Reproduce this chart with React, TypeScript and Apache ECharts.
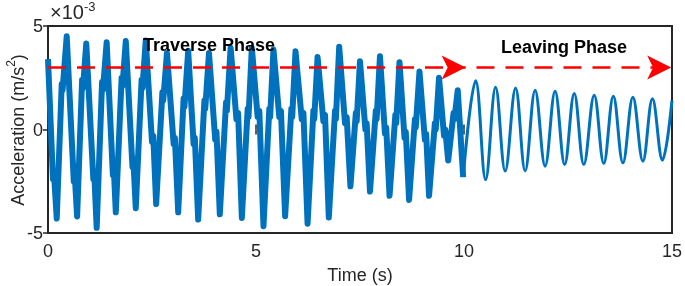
import React, { useEffect, useRef } from "react";
import * as echarts from "echarts";

// Traverse phase (0–10 s): times (s) and acceleration (×1e-3 m/s²), read at extrema and slope notches
const TRAVERSE_T = [
  0.0, 0.05, 0.12, 0.14, 0.21, 0.33, 0.35, 0.45, 0.62, 0.64, 0.7, 0.82, 0.84, 0.92,
  1.09, 1.11, 1.17, 1.3, 1.32, 1.41, 1.56, 1.58, 1.63, 1.77, 1.79, 1.87,
  2.03, 2.05, 2.11, 2.25, 2.27, 2.35, 2.5, 2.53, 2.6, 2.75, 2.77, 2.86,
  3.02, 3.05, 3.13, 3.26, 3.28, 3.37, 3.5, 3.53, 3.61, 3.76, 3.78, 3.87,
  4.02, 4.05, 4.13, 4.28, 4.3, 4.39, 4.53, 4.57, 4.66, 4.8, 4.82, 4.9,
  5.04, 5.08, 5.18, 5.32, 5.34, 5.42, 5.56, 5.6, 5.7, 5.85, 5.87, 5.95,
  6.1, 6.14, 6.24, 6.38, 6.4, 6.48, 6.62, 6.66, 6.75, 6.9, 6.92, 7.0,
  7.14, 7.18, 7.27, 7.4, 7.42, 7.5, 7.63, 7.66, 7.74, 7.88, 7.9, 7.98,
  8.1, 8.13, 8.21, 8.35, 8.37, 8.45, 8.57, 8.6, 8.68, 8.82, 8.84, 8.93,
  9.06, 9.09, 9.16, 9.3, 9.32, 9.4, 9.52, 9.55, 9.62, 9.75, 9.77, 9.85, 9.98,
];
const TRAVERSE_V = [
  3.4, 1.0, -2.4, -2.0, -4.3, 2.2, 1.9, 4.5, -2.5, -2.1, -4.2, 2.4, 2.0, 4.15,
  -2.4, -2.0, -4.75, 2.3, 1.9, 4.22, -2.2, -1.8, -4.0, 2.5, 2.1, 4.27,
  -1.8, -1.4, -3.8, 2.4, 2.0, 4.3, -0.6, -0.3, -3.6, 1.8, 1.4, 3.7,
  -0.7, -0.4, -4.0, 1.5, 1.1, 3.8, -0.7, -0.4, -4.35, 1.4, 1.0, 3.7,
  -0.5, -0.1, -4.1, 1.3, 0.9, 3.95, 0.5, 0.8, -4.27, 1.0, 0.6, 3.95,
  0.6, 0.9, -4.67, 1.0, 0.6, 3.86, 0.6, 0.9, -4.19, 1.0, 0.6, 3.78,
  0.5, 0.8, -4.55, 0.9, 0.5, 3.5, 0.4, 0.7, -4.25, 0.9, 0.5, 4.0,
  0.3, 0.6, -2.74, 0.8, 0.4, 3.3, 0.0, 0.3, -3.0, 0.9, 0.5, 3.54,
  -0.2, 0.1, -3.2, 0.7, 0.3, 3.25, -0.4, -0.1, -3.4, 0.5, 0.1, 2.8,
  -0.5, -0.2, -3.2, 0.3, 0.0, 2.5, -0.3, 0.0, -1.5, 0.8, 0.5, 1.9, -2.3,
];
// Leaving phase (10–15 s)
const LEAVING_T = [
  9.98, 10.28, 10.52, 10.76, 10.99, 11.24, 11.47, 11.71, 11.95, 12.19, 12.42, 12.65, 12.88,
  13.13, 13.36, 13.59, 13.82, 14.06, 14.3, 14.53, 14.77, 15.0,
];
const LEAVING_V = [
  -2.3, 2.35, -2.42, 2.04, -2.01, 2.01, -2.0, 1.9, -1.77, 1.85, -1.69, 1.74, -1.69,
  1.66, -1.64, 1.61, -1.61, 1.56, -1.53, 1.48, -1.48, 1.4,
];

const X_TICKS = [0, 5, 10, 15];
const Y_TICKS = [-5, 0, 5];
const ARROW_LEVEL = 3;
const ARROW_1 = [0, 10.04];
const ARROW_2 = [10.3, 14.98];

const BLUE = "#0072BD";
const RED = "#FF0000";
const DARK = "#262626";
const FONT = "Liberation Sans, Arial, Helvetica, sans-serif";

export default function App() {
  const ref = useRef<HTMLDivElement>(null);
  useEffect(() => {
    if (!ref.current) return;
    const chart = echarts.init(ref.current, undefined, { renderer: "svg" });
    const traverse = TRAVERSE_T.map((t, i) => [t, TRAVERSE_V[i]]);
    const leaving = LEAVING_T.map((t, i) => [t, LEAVING_V[i]]);
    const xMin = X_TICKS[0];
    const xMax = X_TICKS[X_TICKS.length - 1];
    const xInt = X_TICKS[1] - X_TICKS[0];
    const yMin = Y_TICKS[0];
    const yMax = Y_TICKS[Y_TICKS.length - 1];
    const yInt = Y_TICKS[1] - Y_TICKS[0];
    const tick = { show: true, inside: true, length: 5, lineStyle: { color: DARK, width: 1.5 } };
    const lbl = { fontSize: 18, color: DARK, fontFamily: FONT };
    chart.setOption({
      animation: false,
      grid: {
        left: 48,
        right: 13,
        top: 26,
        bottom: 53,
        show: true,
        borderColor: DARK,
        borderWidth: 2,
        backgroundColor: "#fff",
      },
      xAxis: [
        {
          type: "value", position: "bottom", min: xMin, max: xMax, interval: xInt,
          axisLine: { show: false }, axisTick: tick, splitLine: { show: false },
          axisLabel: { ...lbl, margin: 9 },
        },
        {
          type: "value", position: "top", min: xMin, max: xMax, interval: xInt,
          axisLine: { show: false }, axisTick: tick, splitLine: { show: false },
          axisLabel: { show: false },
        },
      ],
      yAxis: [
        {
          type: "value", position: "left", min: yMin, max: yMax, interval: yInt,
          axisLine: { show: false }, axisTick: tick, splitLine: { show: false },
          axisLabel: { ...lbl, margin: 5 },
        },
        {
          type: "value", position: "right", min: yMin, max: yMax, interval: yInt,
          axisLine: { show: false }, axisTick: tick, splitLine: { show: false },
          axisLabel: { show: false },
        },
      ],
      series: [
        {
          type: "line",
          data: traverse,
          showSymbol: false,
          smooth: false,
          lineStyle: { color: BLUE, width: 6, join: "round" },
          z: 3,
        },
        {
          type: "line",
          data: leaving,
          showSymbol: false,
          smooth: 0.38,
          lineStyle: { color: BLUE, width: 3 },
          z: 3,
          markLine: {
            silent: true,
            symbol: ["none", "arrow"],
            symbolSize: [18, 24],
            label: { show: false },
            lineStyle: { color: RED, width: 2.5, type: [18, 11] },
            data: [
              [{ coord: [ARROW_1[0], ARROW_LEVEL] }, { coord: [ARROW_1[1], ARROW_LEVEL] }],
              [{ coord: [ARROW_2[0], ARROW_LEVEL] }, { coord: [ARROW_2[1], ARROW_LEVEL] }],
            ],
            itemStyle: { color: RED },
          },
        },
      ],
      graphic: [
        {
          type: "text", left: 50, top: 0,
          style: {
            text: "{a|×10}{s|-3}",
            rich: {
              a: { fontSize: 20, fontFamily: FONT, fill: DARK, lineHeight: 22, verticalAlign: "bottom" },
              s: { fontSize: 13, fontFamily: FONT, fill: DARK, lineHeight: 22, verticalAlign: "top" },
            },
          },
        },
        {
          type: "text", x: 16, y: 130, rotation: Math.PI / 2,
          style: {
            text: "{a|Acceleration (m/s}{s|2}{a|)}",
            align: "center", verticalAlign: "middle",
            rich: {
              a: { fontSize: 18, fontFamily: FONT, fill: DARK, lineHeight: 22, verticalAlign: "bottom" },
              s: { fontSize: 12, fontFamily: FONT, fill: DARK, lineHeight: 22, verticalAlign: "top" },
            },
          },
        },
        {
          type: "text", x: 360, y: 275,
          style: { text: "Time (s)", fontSize: 18, fontFamily: FONT, fill: DARK, align: "center", verticalAlign: "middle" },
        },
        {
          type: "text", x: 209, y: 45, z: 10,
          style: { text: "Traverse Phase", fontSize: 18, fontWeight: "bold", fontFamily: FONT, fill: "#000", align: "center", verticalAlign: "middle" },
        },
        {
          type: "text", x: 564, y: 47, z: 10,
          style: { text: "Leaving Phase", fontSize: 18, fontWeight: "bold", fontFamily: FONT, fill: "#000", align: "center", verticalAlign: "middle" },
        },
      ],
    });
    return () => chart.dispose();
  }, []);
  return <div ref={ref} style={{ position: "fixed", left: 0, top: 0, width: 685, height: 286 }} />;
}
